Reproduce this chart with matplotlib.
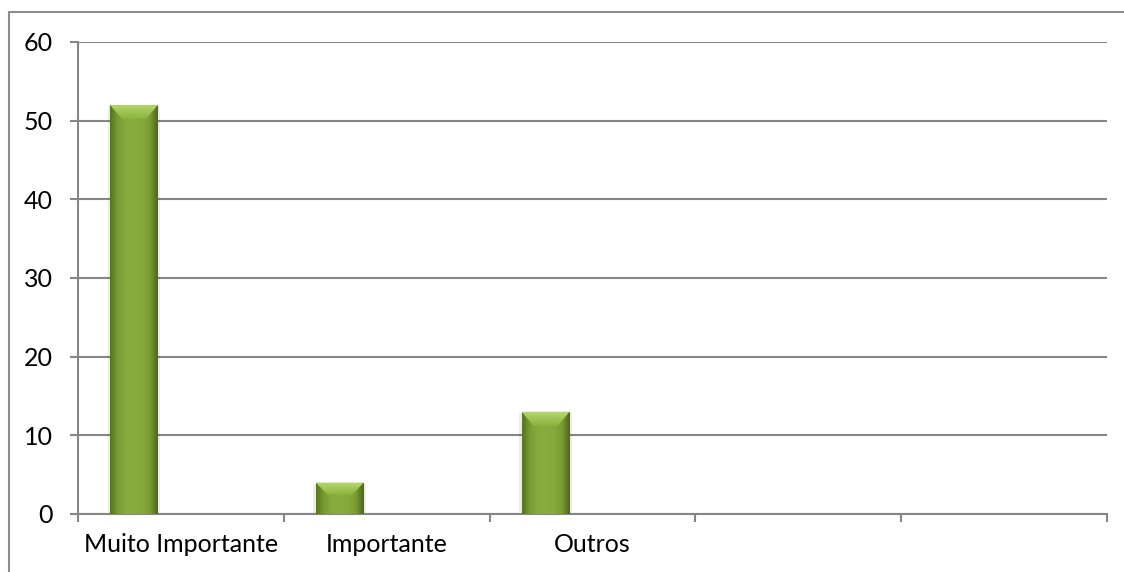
import numpy as np
import matplotlib.pyplot as plt
from matplotlib.colors import LinearSegmentedColormap
from matplotlib.patches import Polygon, Rectangle

categories = ["Muito Importante", "Importante", "Outros", "", ""]
values = [52, 4, 13]

plt.rcParams['font.family'] = ['Lato', 'DejaVu Sans']

fig = plt.figure(figsize=(11.24, 5.72), dpi=100)
ax = fig.add_axes([0.0694, 0.1014, 0.9156, 0.8252])

# outer frame around the chart
fig.patches.append(Rectangle((9 / 1124, -0.1), 1.2, 1 - 12 / 572 + 0.1,
                             transform=fig.transFigure, fill=False,
                             edgecolor="#8c8c8c", linewidth=1.5))

body_cmap = LinearSegmentedColormap.from_list(
    "body", ["#56731f", "#7a9d33", "#87aa3d", "#89ac3f", "#86a93c", "#7a9c34", "#4c661b"])
top_cmap = LinearSegmentedColormap.from_list("top", ["#8ab33c", "#b8d872"])

offset = -0.228
width = 0.233
bevel_h = 1.8

ax.set_xlim(-0.5, 4.5)
ax.set_ylim(0, 60)

for i, v in enumerate(values):
    x0 = i + offset - width / 2
    # soft shadow along the bar sides
    ax.add_patch(Rectangle((x0 - 0.012, 0), width + 0.024, v - 0.2, facecolor="#000000",
                           alpha=0.07, edgecolor="none", zorder=2))
    bar = ax.bar(i + offset, v, width, color="none", edgecolor="none", zorder=3)[0]
    grad = np.linspace(0, 1, 256).reshape(1, -1)
    im = ax.imshow(grad, cmap=body_cmap, aspect="auto", extent=(x0, x0 + width, 0, v),
                   zorder=3, interpolation="bicubic")
    im.set_clip_path(bar)
    # lighter bevel on top
    h = min(bevel_h, v * 0.4)
    inset = width * 0.25
    poly = Polygon([(x0, v), (x0 + width, v), (x0 + width - inset, v - h), (x0 + inset, v - h)],
                   closed=True, facecolor="none", edgecolor="none", zorder=4)
    ax.add_patch(poly)
    vgrad = np.linspace(0, 1, 64).reshape(-1, 1)
    im2 = ax.imshow(vgrad, cmap=top_cmap, aspect="auto", extent=(x0, x0 + width, v - h, v),
                    origin="lower", zorder=4, interpolation="bicubic")
    im2.set_clip_path(poly)

ax.set_xlim(-0.5, 4.5)
ax.set_ylim(0, 60)

ax.set_yticks(range(0, 61, 10))
ax.yaxis.grid(True, color="#868686", linewidth=1.5)
ax.set_axisbelow(True)

ax.set_xticks(range(len(categories)))
ax.set_xticklabels(categories)
ax.set_xticks(np.arange(-0.5, 4.6, 1), minor=True)
ax.tick_params(axis="x", which="major", length=0, pad=14, labelsize=18)
ax.tick_params(axis="x", which="minor", length=6, width=1.5, color="#868686", direction="out")
ax.tick_params(axis="y", length=6, width=1.5, color="#868686", pad=12, labelsize=18)

for s in ["top", "right"]:
    ax.spines[s].set_visible(False)
for s in ["left", "bottom"]:
    ax.spines[s].set_color("#868686")
    ax.spines[s].set_linewidth(1.5)

fig.savefig("out.png", dpi=100)
